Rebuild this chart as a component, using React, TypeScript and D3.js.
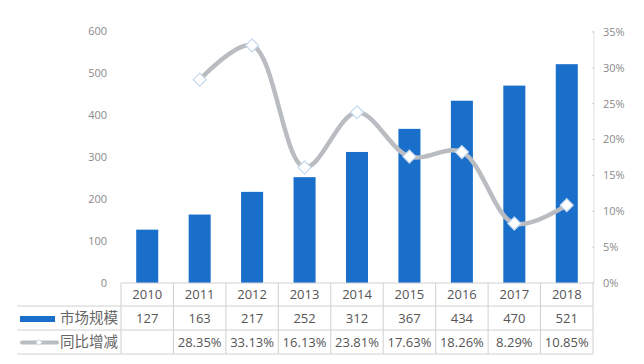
import React from "react";
import * as d3 from "d3";

const years = ["2010", "2011", "2012", "2013", "2014", "2015", "2016", "2017", "2018"];
const marketSize = [127, 163, 217, 252, 312, 367, 434, 470, 521];
const growth: (number | null)[] = [null, 28.35, 33.13, 16.13, 23.81, 17.63, 18.26, 8.29, 10.85];
const growthLabels = ["", "28.35%", "33.13%", "16.13%", "23.81%", "17.63%", "18.26%", "8.29%", "10.85%"];
const leftTicks = [0, 100, 200, 300, 400, 500, 600];
const rightTicks = [0, 5, 10, 15, 20, 25, 30, 35];
const seriesNames = ["市场规模", "同比增减"];

const W = 644;
const H = 364;
const plotLeft = 121;
const plotRight = 593;
const plotTop = 31;
const plotBottom = 283;
const rowH = [23, 24, 24];

const BAR = "#1a6fcb";
const LINE = "#b9bcc0";
const GRID = "#d0d0d0";
const AXIS_TXT = "#8a8a8a";
const TXT = "#555";
const NUM_FONT = "'Open Sans', 'DejaVu Sans', sans-serif";
const CJK_FONT = "'Noto Sans CJK SC', sans-serif";

export default function App() {
  const x = d3
    .scaleBand<string>()
    .domain(years)
    .range([plotLeft, plotRight])
    .paddingInner(0.58)
    .paddingOuter(0.29);
  const step = x.step();
  const yL = d3.scaleLinear().domain([0, 600]).range([plotBottom, plotTop]);
  const yR = d3.scaleLinear().domain([0, 35]).range([plotBottom, plotTop + 1]);

  const pts = years
    .map((yr, i) => ({ yr, v: growth[i] }))
    .filter((d) => d.v !== null) as { yr: string; v: number }[];
  const line = d3
    .line<{ yr: string; v: number }>()
    .x((d) => (x(d.yr) as number) + x.bandwidth() / 2)
    .y((d) => yR(d.v))
    .curve(d3.curveCatmullRom.alpha(0.5));

  const r1 = plotBottom;
  const r2 = r1 + rowH[0];
  const r3 = r2 + rowH[1];
  const r4 = r3 + rowH[2];
  const colBounds = d3.range(years.length + 1).map((i) => plotLeft + i * step);

  const diamond = (cx: number, cy: number, s: number) =>
    `M${cx},${cy - s} L${cx + s},${cy} L${cx},${cy + s} L${cx - s},${cy} Z`;

  return (
    <svg width={W} height={H} style={{ position: "absolute", left: 0, top: 0, background: "#fff" }}>
      {leftTicks.map((t) => (
        <text
          key={"l" + t}
          x={107}
          y={yL(t)}
          dy="0.35em"
          textAnchor="end"
          fontSize={11}
          fill={AXIS_TXT}
          fontFamily={NUM_FONT}
        >
          {t}
        </text>
      ))}
      <line x1={plotRight + 1} x2={plotRight + 1} y1={plotTop} y2={plotBottom} stroke="#e2e2e2" />
      {rightTicks.map((t) => (
        <g key={"r" + t}>
          <line x1={plotRight - 1} x2={plotRight + 1} y1={yR(t)} y2={yR(t)} stroke="#ccc" />
          <text
            x={603}
            y={yR(t)}
            dy="0.35em"
            textAnchor="start"
            fontSize={11}
            fill={AXIS_TXT}
            fontFamily={NUM_FONT}
          >
            {t + "%"}
          </text>
        </g>
      ))}
      {years.map((yr, i) => (
        <rect
          key={"b" + yr}
          x={x(yr)}
          y={yL(marketSize[i])}
          width={x.bandwidth()}
          height={plotBottom - yL(marketSize[i])}
          fill={BAR}
        />
      ))}
      <path d={line(pts) || ""} fill="none" stroke={LINE} strokeWidth={4.5} strokeLinecap="round" />
      {pts.map((d) => {
        const cx = (x(d.yr) as number) + x.bandwidth() / 2;
        const cy = yR(d.v);
        return (
          <path key={"m" + d.yr} d={diamond(cx, cy, 6.5)} fill="#ffffff" stroke="#c5d9ee" strokeWidth={1.2} />
        );
      })}
      <g stroke={GRID} strokeWidth={1} fill="none">
        <line x1={plotLeft} x2={plotRight} y1={r1} y2={r1} />
        <line x1={17} x2={plotRight} y1={r2} y2={r2} />
        <line x1={17} x2={plotRight} y1={r3} y2={r3} />
        <line x1={17} x2={plotRight} y1={r4} y2={r4} />
        {colBounds.map((cx, i) => (
          <line key={"c" + i} x1={cx} x2={cx} y1={r1} y2={r4} />
        ))}
      </g>
      {years.map((yr, i) => {
        const cx = plotLeft + (i + 0.5) * step;
        return (
          <g key={"t" + yr} fontFamily={NUM_FONT} fontSize={13} fill={TXT} textAnchor="middle">
            <text x={cx} y={(r1 + r2) / 2} dy="0.36em">
              {yr}
            </text>
            <text x={cx} y={(r2 + r3) / 2} dy="0.36em">
              {marketSize[i]}
            </text>
            <text x={cx} y={(r3 + r4) / 2} dy="0.36em">
              {growthLabels[i]}
            </text>
          </g>
        );
      })}
      <rect x={20} y={(r2 + r3) / 2 - 2} width={35} height={6} fill={BAR} />
      <text x={60} y={(r2 + r3) / 2} dy="0.36em" fontSize={14.5} fill="#666" fontFamily={CJK_FONT}>
        {seriesNames[0]}
      </text>
      <line x1={22} x2={57} y1={(r3 + r4) / 2 + 0.5} y2={(r3 + r4) / 2 + 0.5} stroke={LINE} strokeWidth={4} strokeLinecap="round" />
      <path d={diamond(39, (r3 + r4) / 2 + 0.5, 3)} fill="#fff" stroke="#c5d9ee" strokeWidth={1} />
      <text x={60} y={(r3 + r4) / 2} dy="0.36em" fontSize={14.5} fill="#666" fontFamily={CJK_FONT}>
        {seriesNames[1]}
      </text>
    </svg>
  );
}
